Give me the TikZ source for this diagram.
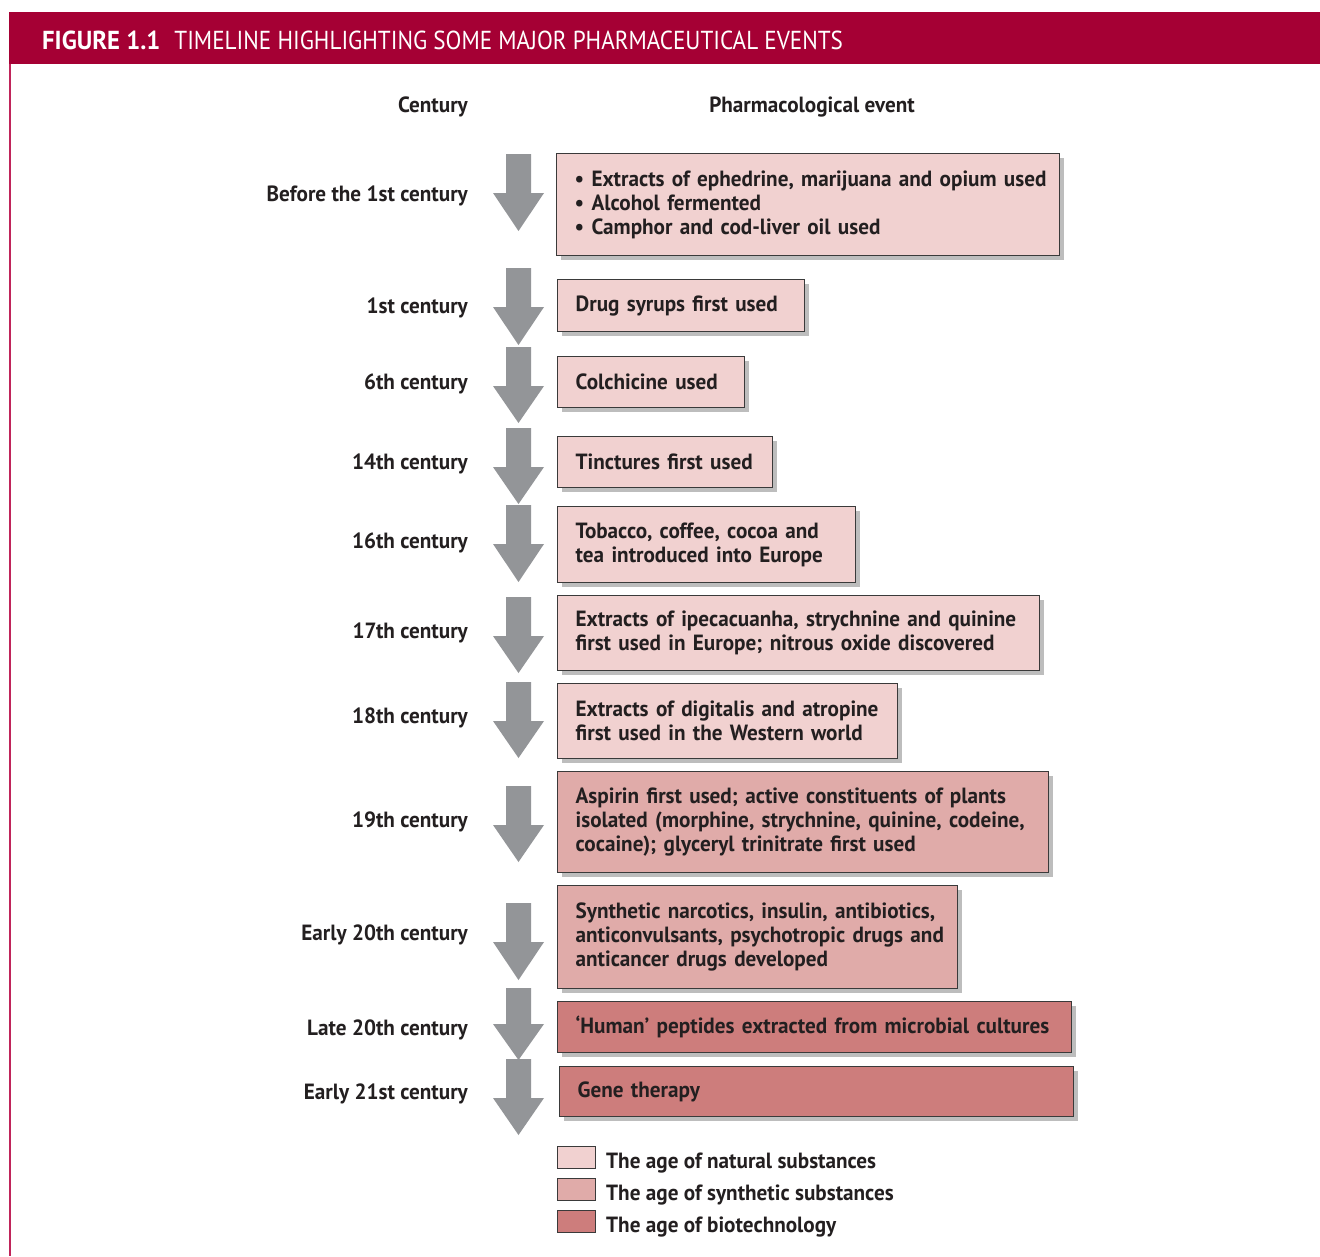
\documentclass[tikz,border=0pt]{standalone}
\usepackage{fontspec}
\setmainfont{PT Sans}[FakeStretch=0.963]
\newfontfamily\titlefont{PT Sans}[FakeStretch=0.89]
\newfontfamily\titlebold{PT Sans Bold}[FakeStretch=0.95]
\usetikzlibrary{shadows}
\definecolor{bandc}{HTML}{A50034}
\definecolor{sidec}{HTML}{C0245A}
\definecolor{arrowc}{HTML}{939598}
\definecolor{natural}{HTML}{F1D1D0}
\definecolor{synth}{HTML}{E0ABA9}
\definecolor{biotech}{HTML}{CD7D7C}
\definecolor{textc}{HTML}{231F20}
\definecolor{borderc}{HTML}{3A3A3A}
\definecolor{shadowc}{HTML}{BDBDBD}
\newcommand\bodyfont{\fontsize{22}{24}\selectfont\bfseries}
\newcommand\tlarrow[3]{%
  \fill[arrowc] (506,#1) -- (531,#1) -- (531,#2) -- (544,#2) -- (518.5,#3) -- (493,#2) -- (506,#2) -- cycle;}
\newcommand\oneline[1]{\mbox{#1}}
\tikzset{
  evbox/.style={draw=borderc, line width=1.3pt, anchor=north west, inner xsep=18pt, inner ysep=0pt,
    align=left, font=\bodyfont, text=textc,
    drop shadow={shadow xshift=4pt, shadow yshift=-4pt, fill=shadowc, opacity=1}},
  cent/.style={anchor=east, font=\bodyfont, text=textc, inner sep=0pt, yshift=-2pt},
  head/.style={font=\bodyfont, text=textc, inner sep=0pt, yshift=-2pt},
  legbox/.style={draw=borderc, line width=1.3pt, anchor=north west, minimum width=38pt, minimum height=22pt, inner sep=0pt},
  legtext/.style={anchor=west, font=\bodyfont, text=textc, inner sep=0pt, yshift=-2pt},
}
\begin{document}
\begin{tikzpicture}[x=1pt,y=-1pt]
\useasboundingbox (0,0) rectangle (1320,1256);
\fill[white] (0,0) rectangle (1320,1256);
% title band
\fill[bandc] (9,12) rectangle (1320,64);
\draw[sidec, line width=2.2pt] (10,64) -- (10,1256);
\node[anchor=west, text=white, inner sep=0pt, font=\fontsize{26}{30}\selectfont] (title) at (42,40)
  {{\titlebold FIGURE 1.1}\hspace{14pt}{\titlefont TIMELINE HIGHLIGHTING SOME MAJOR PHARMACEUTICAL EVENTS}};
% column heads
\node[cent] (hcent) at (468,105) {Century};
\node[head] (hevent) at (812,105) {Pharmacological event};
% arrows
\tlarrow{154}{193}{231}
\tlarrow{268}{307}{345}
\tlarrow{347}{386}{423}
\tlarrow{428}{467}{504}
\tlarrow{505}{544}{582}
\tlarrow{597}{636}{673}
\tlarrow{682}{721}{758}
\tlarrow{786}{825}{862}
\tlarrow{903}{942}{980}
\tlarrow{988}{1024}{1060}
\tlarrow{1059}{1098}{1135}
% century labels
\node[cent] (c1) at (468,194) {Before the 1st century};
\node[cent] (c2) at (468,306) {1st century};
\node[cent] (c3) at (468,382) {6th century};
\node[cent] (c4) at (468,462) {14th century};
\node[cent] (c5) at (468,541) {16th century};
\node[cent] (c6) at (468,631) {17th century};
\node[cent] (c7) at (468,716) {18th century};
\node[cent] (c8) at (468,820) {19th century};
\node[cent] (c9) at (468,933) {Early 20th century};
\node[cent] (c10) at (468,1028) {Late 20th century};
\node[cent] (c11) at (468,1092) {Early 21st century};
% event boxes
\node[evbox, fill=natural, text width=467pt, minimum height=102pt] (e1) at (556,153)
  {\oneline{• Extracts of ephedrine, marijuana and opium used}\\ \oneline{• Alcohol fermented}\\ \oneline{• Camphor and cod-liver oil used}};
\node[evbox, fill=natural, text width=211pt, minimum height=52pt] (e2) at (557,279) {\oneline{Drug syrups first used}};
\node[evbox, fill=natural, text width=151pt, minimum height=51pt] (e3) at (557,356) {\oneline{Colchicine used}};
\node[evbox, fill=natural, text width=179pt, minimum height=51pt] (e4) at (557,436) {\oneline{Tinctures first used}};
\node[evbox, fill=natural, text width=262pt, minimum height=76pt] (e5) at (557,506)
  {\oneline{Tobacco, coffee, cocoa and}\\ \oneline{tea introduced into Europe}};
\node[evbox, fill=natural, text width=446pt, minimum height=75pt] (e6) at (557,595)
  {\oneline{Extracts of ipecacuanha, strychnine and quinine}\\ \oneline{first used in Europe; nitrous oxide discovered}};
\node[evbox, fill=natural, text width=304pt, minimum height=75pt] (e7) at (557,683)
  {\oneline{Extracts of digitalis and atropine}\\ \oneline{first used in the Western world}};
\node[evbox, fill=synth, text width=455pt, minimum height=101pt] (e8) at (557,771)
  {\oneline{Aspirin first used; active constituents of plants}\\ \oneline{isolated (morphine, strychnine, quinine, codeine,}\\ \oneline{cocaine); glyceryl trinitrate first used}};
\node[evbox, fill=synth, text width=364pt, minimum height=103pt] (e9) at (557,885)
  {\oneline{Synthetic narcotics, insulin, antibiotics,}\\ \oneline{anticonvulsants, psychotropic drugs and}\\ \oneline{anticancer drugs developed}};
\node[evbox, fill=biotech, text width=478pt, minimum height=51pt] (e10) at (557,1001)
  {\oneline{‘Human’ peptides extracted from microbial cultures}};
\node[evbox, fill=biotech, text width=478pt, minimum height=50pt] (e11) at (559,1066) {\oneline{Gene therapy}};
% legend
\node[legbox, fill=natural] (l1) at (557,1146) {};
\node[legbox, fill=synth] (l2) at (557,1178) {};
\node[legbox, fill=biotech] (l3) at (557,1210) {};
\node[legtext] (t1) at (606,1161) {The age of natural substances};
\node[legtext] (t2) at (606,1193) {The age of synthetic substances};
\node[legtext] (t3) at (606,1225) {The age of biotechnology};
\end{tikzpicture}
\end{document}
